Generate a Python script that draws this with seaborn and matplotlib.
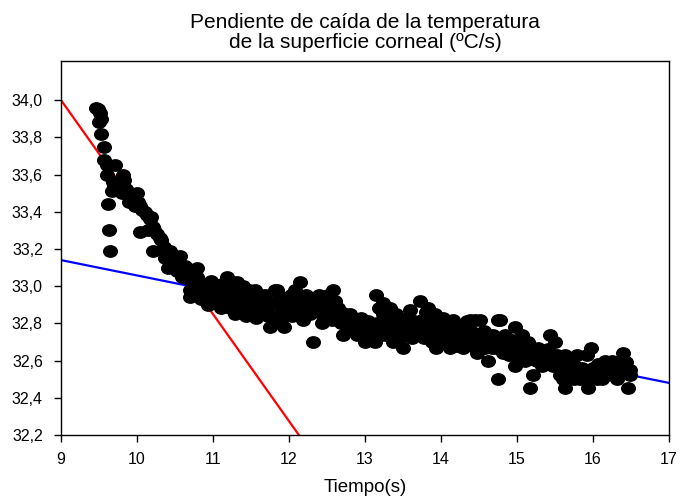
import numpy as np
import pandas as pd
import matplotlib
matplotlib.use("Agg")
import matplotlib.pyplot as plt
from matplotlib.path import Path
import seaborn as sns

# Corneal surface temperature over time
time_s = [
    9.46, 9.49, 9.51, 9.52, 9.50, 9.53, 9.56, 9.57, 9.61, 9.60, 9.69, 9.71, 9.62, 9.63, 9.64,
    9.67, 9.70, 9.74, 9.78, 9.82, 9.83, 9.80, 9.86, 9.89, 9.91, 9.94, 9.97, 10.00, 10.01, 10.04,
    10.06, 10.10, 10.13, 10.17, 10.19, 10.04, 10.14, 10.21, 10.23, 10.26, 10.30, 10.32, 10.21, 10.35, 10.38,
    10.43, 10.37, 10.45, 10.50, 10.57, 10.41, 10.47, 10.52, 10.55, 10.60, 10.63, 10.65, 10.52, 10.59, 10.68,
    10.70, 10.72, 10.79, 10.79,
    10.70, 10.70, 10.74, 10.78, 10.82, 10.85, 10.87, 10.89, 10.92, 10.95, 10.97, 11.00, 11.02, 11.05, 11.07,
    11.09, 11.12, 11.14, 11.16, 11.18, 11.20, 11.22, 11.22, 11.25, 11.27, 11.29, 11.31, 11.33, 11.36, 11.38,
    11.40, 11.42, 11.44, 11.44, 11.47, 11.49, 11.51, 11.53, 11.55, 11.57, 11.58, 11.62, 11.62, 11.65, 11.68,
    11.68, 11.71, 11.75, 11.77, 11.80, 11.82, 11.84, 11.86, 11.88, 11.91, 11.93, 11.95, 11.97, 12.00, 12.02,
    12.04, 12.06, 12.08, 12.10, 12.12, 12.14, 12.16, 12.19, 12.21, 12.23, 12.26, 12.28, 12.30, 12.32, 12.34,
    12.36, 12.39, 12.41, 12.43, 12.46, 12.48, 12.51, 12.53, 12.55, 12.58, 12.61, 12.61, 12.64, 12.66, 12.69,
    12.71, 12.71, 12.74, 12.77, 12.80, 12.82, 12.85, 12.87, 12.89, 12.89, 12.92, 12.95, 12.97, 13.00, 13.02,
    13.04, 13.06, 13.09, 13.11, 13.13, 13.15, 13.16, 13.18, 13.20, 13.22, 13.24, 13.24, 13.26, 13.29, 13.31,
    13.33, 13.35, 13.37, 13.39, 13.41, 13.41, 13.44, 13.46, 13.48, 13.50, 13.52, 13.55, 13.57, 13.59, 13.61,
    13.64, 13.66, 13.68, 13.70, 13.72, 13.72, 13.75, 13.77, 13.80, 13.83, 13.85, 13.86, 13.88, 13.90, 13.92,
    13.92, 13.94, 13.97, 13.99, 14.01, 14.03, 14.05, 14.07, 14.10, 14.12, 14.14, 14.16, 14.18, 14.21, 14.21,
    14.23, 14.25, 14.27, 14.29, 14.31, 14.34, 14.36, 14.38, 14.38, 14.40, 14.43, 14.45, 14.47, 14.49, 14.51,
    14.51, 14.54, 14.56, 14.58, 14.60, 14.62, 14.64, 14.67, 14.69, 14.69, 14.72, 14.75, 14.75, 14.78, 14.78,
    14.80, 14.82, 14.84, 14.87, 14.89, 14.91, 14.94, 14.97, 14.97, 15.00, 15.02, 15.04, 15.06, 15.09, 15.11,
    15.13, 15.15, 15.17, 15.17, 15.19, 15.21, 15.23, 15.26, 15.28, 15.30, 15.33, 15.35, 15.37, 15.39, 15.41,
    15.43, 15.45, 15.47, 15.50, 15.52, 15.54, 15.56, 15.58, 15.61, 15.63, 15.63, 15.63, 15.66, 15.68, 15.70,
    15.72, 15.75, 15.76, 15.79, 15.81, 15.83, 15.85, 15.88, 15.90, 15.92, 15.94, 15.96, 15.98, 16.00, 16.02,
    16.05, 16.07, 16.09, 16.12, 16.14, 16.16, 16.18, 16.20, 16.22, 16.25, 16.27, 16.29, 16.31, 16.33, 16.36,
    16.38, 16.40, 16.42, 16.44, 16.46, 16.49, 16.49,
    # extra samples filling the plateau band
    10.76, 10.84, 10.94, 11.03, 11.11, 11.19, 11.28, 11.35, 11.46, 11.60, 11.73, 11.90, 12.05, 12.18,
    12.44, 12.57, 12.68, 12.93, 13.07, 13.27, 13.45, 13.62, 13.79, 14.08, 14.33, 14.57, 14.86, 15.07,
    15.24, 15.48, 15.71, 16.03, 16.24,
]
temp_c = [
    33.96, 33.95, 33.93, 33.90, 33.88, 33.82, 33.75, 33.68, 33.65, 33.60, 33.56, 33.65, 33.44, 33.30, 33.19,
    33.51, 33.54, 33.53, 33.55, 33.60, 33.57, 33.50, 33.52, 33.45, 33.50, 33.47, 33.43, 33.50, 33.45, 33.43,
    33.41, 33.40, 33.38, 33.36, 33.37, 33.29, 33.30, 33.32, 33.30, 33.28, 33.26, 33.25, 33.19, 33.21, 33.18,
    33.19, 33.15, 33.16, 33.14, 33.16, 33.10, 33.11, 33.10, 33.12, 33.08, 33.11, 33.10, 33.08, 33.05, 33.04,
    33.06, 33.04, 33.10, 33.05,
    32.98, 32.94, 33.00, 32.97, 33.02, 32.99, 33.01, 32.96, 33.00, 32.98, 33.03, 33.01, 32.97, 32.97, 32.92,
    32.99, 33.01, 32.95, 32.98, 33.05, 32.93, 32.98, 32.88, 33.02, 32.95, 32.85, 33.02, 32.93, 32.90, 32.97,
    33.00, 32.94, 32.92, 32.84, 32.98, 32.97, 32.89, 32.87, 32.98, 32.83, 32.93, 32.95, 32.91, 32.87, 32.92,
    32.95, 32.88, 32.78, 32.91, 32.84, 32.98, 32.98, 32.82, 32.94, 32.88, 32.78, 32.93, 32.91, 32.87, 32.95,
    32.84, 32.90, 32.98, 32.93, 32.86, 33.02, 32.90, 32.82, 32.87, 32.95, 32.90, 32.85, 32.93, 32.70, 32.88,
    32.92, 32.95, 32.89, 32.85, 32.92, 32.87, 32.95, 32.90, 32.85, 32.98, 32.92, 32.85, 32.88, 32.83, 32.80,
    32.81, 32.74, 32.85, 32.78, 32.85, 32.80, 32.76, 32.82, 32.81, 32.74, 32.78, 32.83, 32.76, 32.70, 32.79,
    32.81, 32.75, 32.78, 32.73, 32.70, 32.95, 32.80, 32.88, 32.76, 32.74, 32.91, 32.85, 32.78, 32.82, 32.73,
    32.88, 32.77, 32.70, 32.81, 32.85, 32.74, 32.78, 32.82, 32.80, 32.67, 32.75, 32.74, 32.83, 32.87, 32.77,
    32.81, 32.74, 32.78, 32.74, 32.92, 32.78, 32.82, 32.72, 32.86, 32.88, 32.78, 32.77, 32.70, 32.80, 32.85,
    32.74, 32.67, 32.76, 32.71, 32.80, 32.83, 32.74, 32.71, 32.78, 32.67, 32.74, 32.82, 32.71, 32.71, 32.68,
    32.76, 32.78, 32.72, 32.67, 32.74, 32.81, 32.70, 32.82, 32.72, 32.76, 32.68, 32.82, 32.64, 32.74, 32.82,
    32.67, 32.70, 32.76, 32.67, 32.73, 32.60, 32.70, 32.67, 32.74, 32.71, 32.67, 32.82, 32.50, 32.82, 32.67,
    32.70, 32.64, 32.74, 32.68, 32.63, 32.67, 32.71, 32.78, 32.57, 32.66, 32.70, 32.62, 32.74, 32.66, 32.60,
    32.65, 32.70, 32.61, 32.45, 32.66, 32.52, 32.63, 32.60, 32.67, 32.62, 32.57, 32.64, 32.60, 32.60, 32.66,
    32.74, 32.62, 32.57, 32.70, 32.63, 32.57, 32.52, 32.60, 32.50, 32.63, 32.53, 32.45, 32.56, 32.50, 32.60,
    32.53, 32.50, 32.57, 32.63, 32.52, 32.50, 32.56, 32.53, 32.50, 32.63, 32.45, 32.53, 32.67, 32.56, 32.52,
    32.50, 32.58, 32.53, 32.50, 32.56, 32.60, 32.52, 32.58, 32.55, 32.60, 32.52, 32.59, 32.50, 32.56, 32.53,
    32.58, 32.64, 32.55, 32.59, 32.45, 32.52, 32.55,
    32.95, 32.93, 32.90, 32.94, 32.88, 32.91, 32.92, 32.86, 32.90, 32.86, 32.84, 32.83, 32.91, 32.93,
    32.80, 32.82, 32.86, 32.80, 32.77, 32.75, 32.71, 32.72, 32.76, 32.76, 32.74, 32.72, 32.71, 32.68,
    32.66, 32.60, 32.55, 32.55, 32.55,
]

# Fitted slopes: fast initial drop (red) and slow late decline (blue)
fast_fit_x = [9.0, 12.13]
fast_fit_y = [34.0, 32.2]
slow_fit_x = [9.0, 17.0]
slow_fit_y = [33.14, 32.48]

x_ticks = [9, 10, 11, 12, 13, 14, 15, 16, 17]
y_ticks = [32.2, 32.4, 32.6, 32.8, 33.0, 33.2, 33.4, 33.6, 33.8, 34.0]

sns.set_theme(style="ticks")
plt.rcParams["font.family"] = ["Liberation Sans", "DejaVu Sans"]

df = pd.DataFrame({"t": time_s, "T": temp_c})

fig = plt.figure(figsize=(6.8, 5.01), dpi=100)
ax = fig.add_axes([61 / 680, 66 / 501, 608 / 680, 374 / 501])

ax.plot(fast_fit_x, fast_fit_y, color="#ff0000", lw=1.6, zorder=2)
ax.plot(slow_fit_x, slow_fit_y, color="#0000ff", lw=1.6, zorder=2)

# slightly flattened round marker
circ = Path.unit_circle()
ell = Path(circ.vertices * np.array([1.0, 0.85]), circ.codes)
sns.scatterplot(data=df, x="t", y="T", ax=ax, color="black", marker=ell,
                s=118, linewidth=0, zorder=3, legend=False)

ax.set_xlim(9, 17)
ax.set_ylim(32.2, 34.21)
ax.set_xticks(x_ticks)
ax.set_yticks(y_ticks)
ax.set_xticklabels([str(v) for v in x_ticks])
ax.set_yticklabels([f"{v:.1f}".replace(".", ",") for v in y_ticks])
ax.tick_params(axis="both", direction="out", length=5, width=1, color="black",
               labelsize=11.5, labelcolor="black", top=False, right=False)
ax.tick_params(axis="y", pad=8)
ax.tick_params(axis="x", pad=7)
for sp in ax.spines.values():
    sp.set_visible(True)
    sp.set_color("black")
    sp.set_linewidth(1.0)

ax.set_xlabel("Tiempo(s)", fontsize=13.5, color="black", labelpad=9)
ax.set_ylabel("")
ax.set_title("Pendiente de caída de la temperatura\nde la superficie corneal (ºC/s)",
             fontsize=15, color="black", pad=9, linespacing=1.1)

fig.savefig("out.png", dpi=100)
